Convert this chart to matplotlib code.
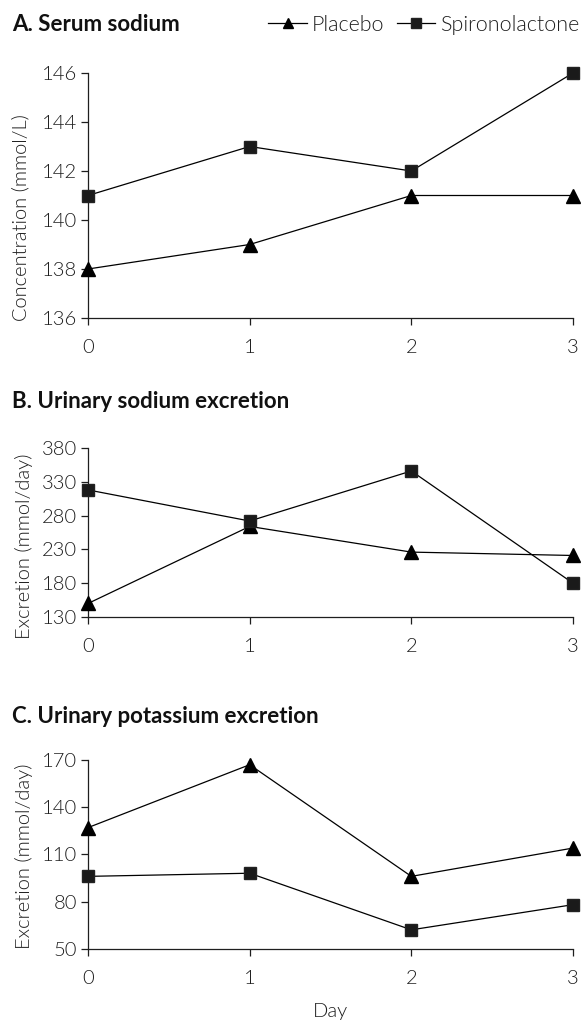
import matplotlib
matplotlib.use("Agg")
import matplotlib.pyplot as plt

plt.rcParams['font.family'] = ['Lato', 'DejaVu Sans']

days = [0, 1, 2, 3]

# A. Serum sodium (mmol/L)
sodium_placebo = [138, 139, 141, 141]
sodium_spiro = [141, 143, 142, 146]

# B. Urinary sodium excretion (mmol/day)
una_placebo = [150, 264, 226, 221]
una_spiro = [318, 272, 346, 180]

# C. Urinary potassium excretion (mmol/day)
uk_placebo = [127, 167, 96, 114]
uk_spiro = [96, 98, 62, 78]

panels = [
    ("A. Serum sodium", sodium_placebo, sodium_spiro, (136, 146), [136, 138, 140, 142, 144, 146],
     "Concentration (mmol/L)"),
    ("B. Urinary sodium excretion", una_placebo, una_spiro, (130, 380), [130, 180, 230, 280, 330, 380],
     "Excretion (mmol/day)"),
    ("C. Urinary potassium excretion", uk_placebo, uk_spiro, (50, 170), [50, 80, 110, 140, 170],
     "Excretion (mmol/day)"),
]

W, H = 581, 1023
fig = plt.figure(figsize=(W / 100, H / 100), dpi=100)

# axes boxes in pixels: (top, bottom)
boxes = [(73, 318), (448, 617), (760, 948.7)]
title_base = [31, 408, 723]
label_y = [0.41, 0.42, 0.49]   # y label centre, axes fraction
label_x = [-0.12, -0.114, -0.114]
left_px, right_px = 88, 573
ink = '#1e1e1e'
thin = 300

for i, (title, pl, sp, ylim, yticks, ylabel) in enumerate(panels):
    top, bot = boxes[i]
    ax = fig.add_axes([left_px / W, 1 - bot / H, (right_px - left_px) / W, (bot - top) / H])
    l1, = ax.plot(days, pl, color='black', lw=0.9, marker='^', ms=9.5, clip_on=False, zorder=3)
    l2, = ax.plot(days, sp, color='black', lw=0.9, marker='s', ms=9, clip_on=False, zorder=3,
                  markeredgecolor='#222222', markerfacecolor='#1a1a1a')
    ax.set_xlim(0, 3)
    ax.set_ylim(*ylim)
    ax.set_xticks(days)
    ax.set_yticks(yticks)
    for s in ['top', 'right']:
        ax.spines[s].set_visible(False)
    for s in ['left', 'bottom']:
        ax.spines[s].set_linewidth(0.9)
        ax.spines[s].set_color(ink)
    ax.tick_params(axis='y', length=5, width=0.9, pad=3, labelsize=14.5, colors=ink)
    ax.tick_params(axis='x', length=5, width=0.9, pad=10, labelsize=14.5, colors=ink)
    for lab in ax.get_xticklabels() + ax.get_yticklabels():
        lab.set_fontweight(thin)
    ax.set_ylabel(ylabel, fontsize=14.5, color=ink, fontweight=thin)
    ax.yaxis.set_label_coords(label_x[i], label_y[i])
    if i == 2:
        ax.set_xlabel("Day", fontsize=14.5, color=ink, labelpad=12, fontweight=thin)
    fig.text(12 / W, 1 - title_base[i] / H, title, fontsize=16, fontweight='bold',
             color='#111111', va='baseline', ha='left')
    if i == 0:
        leg = fig.legend([l1, l2], ["Placebo", "Spironolactone"], loc='center right',
                         bbox_to_anchor=(579 / W, 1 - 25 / H), frameon=False, ncol=2,
                         fontsize=15.5, handlelength=1.8, handletextpad=0.2, columnspacing=0.6,
                         borderpad=0, borderaxespad=0, markerscale=0.8)
        for t in leg.get_texts():
            t.set_fontweight(thin)
            t.set_color(ink)

fig.savefig("out.png", dpi=100)
